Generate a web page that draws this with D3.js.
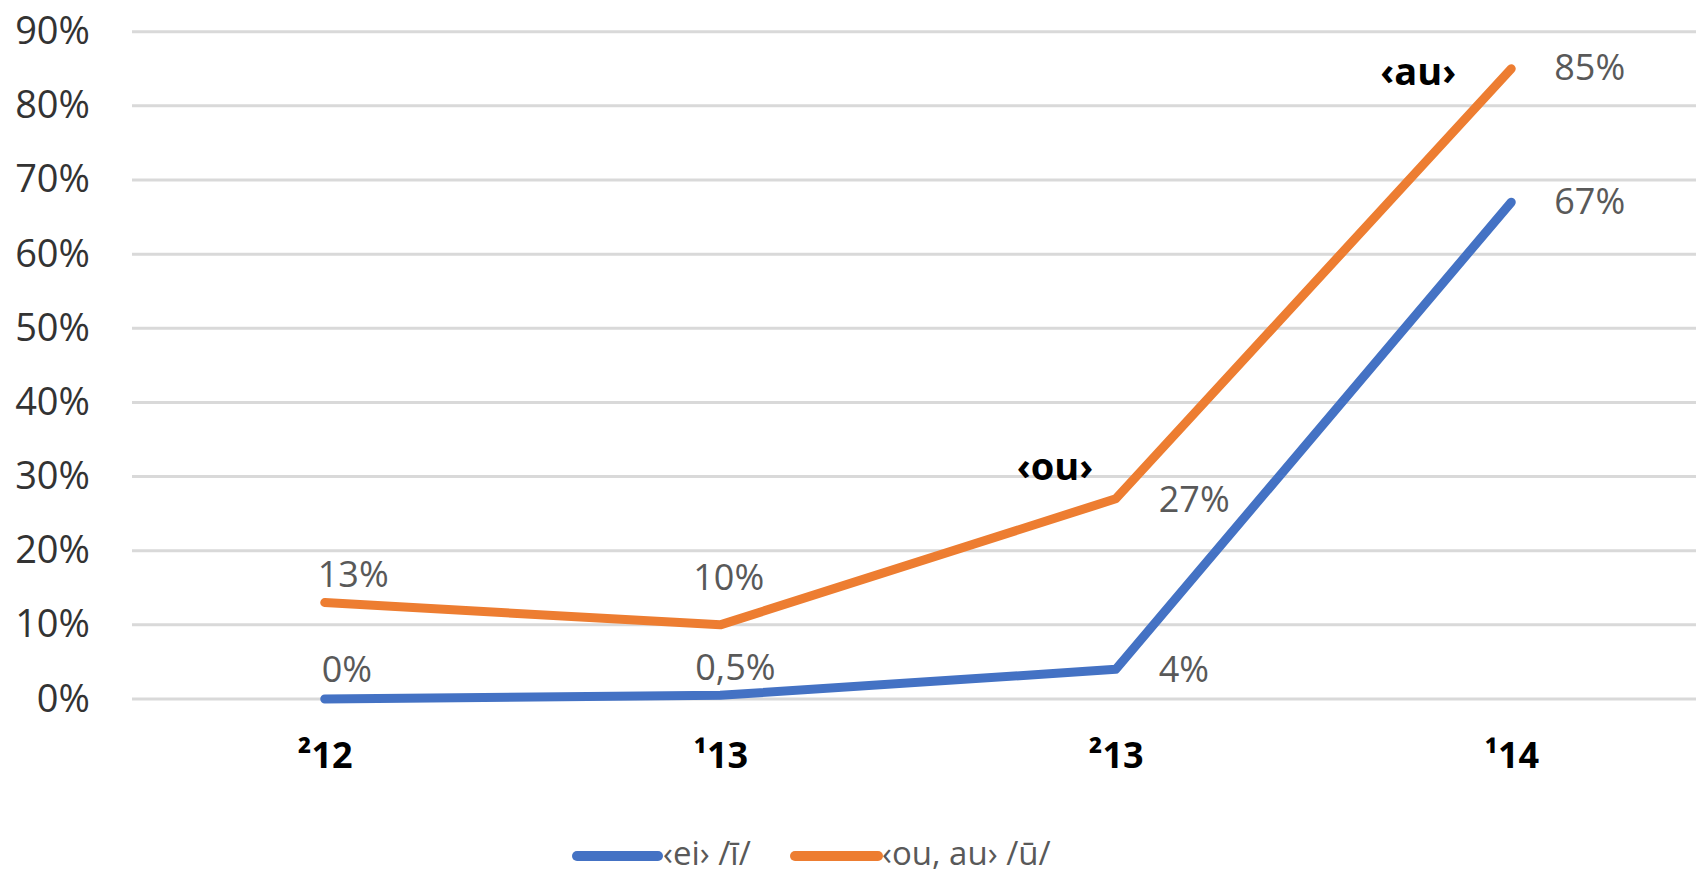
<!DOCTYPE html>
<html>
<head>
<meta charset="utf-8">
<script src="https://cdn.jsdelivr.net/npm/d3@7"></script>
<style>
  html, body { margin: 0; padding: 0; background: #fff; }
  svg { display: block; font-family: "Open Sans", "Noto Sans", sans-serif; }
</style>
</head>
<body>
<svg id="chart" width="1696" height="875"></svg>
<script>
// Periods (century halves) on the x axis
const periods = ["\u00B212", "\u00B913", "\u00B213", "\u00B914"];

// Share of diphthongised spellings, in percent
const eiValues = [0, 0.5, 4, 67];
const ouValues = [13, 10, 27, 85];

const seriesNames = ["\u2039ei\u203A /\u012B/", "\u2039ou, au\u203A /\u016B/"];
const seriesColors = ["#4472C4", "#ED7D31"];

// Y axis tick values, percent
const yTicks = [0, 10, 20, 30, 40, 50, 60, 70, 80, 90];

// Spelling notes attached to points of the ‹ou, au› series
const notes = [
  { text: "\u2039ou\u203A", index: 2 },
  { text: "\u2039au\u203A", index: 3 }
];

const W = 1696, H = 875;
const svg = d3.select("#chart");

const x = d3.scalePoint().domain(periods).range([127, 1709]).padding(0.5);
const y = d3.scaleLinear().domain([0, 90]).range([699, 31.7]);

// Gridlines
svg.append("g")
  .selectAll("line")
  .data(yTicks)
  .join("line")
  .attr("x1", 132).attr("x2", W)
  .attr("y1", d => y(d)).attr("y2", d => y(d))
  .attr("stroke", "#D9D9D9")
  .attr("stroke-width", 3);

// Y axis labels
const yAxis = d3.axisLeft(y).tickValues(yTicks).tickFormat(d => d + "%").tickSize(0).tickPadding(0);
const gy = svg.append("g").attr("transform", "translate(90,0)").call(yAxis);
gy.select(".domain").remove();
gy.selectAll("text")
  .attr("font-size", 38)
  .attr("font-family", "'Open Sans', sans-serif")
  .attr("fill", "#333")
  .attr("dy", 12);

// X axis labels
const xAxis = d3.axisBottom(x).tickSize(0).tickPadding(0);
const gx = svg.append("g").attr("transform", "translate(0,768)").call(xAxis);
gx.select(".domain").remove();
gx.selectAll("text")
  .attr("font-size", 36)
  .attr("font-weight", "bold")
  .attr("font-family", "'Open Sans', sans-serif")
  .attr("fill", "#000")
  .attr("dy", 0);

// Lines
const series = [eiValues, ouValues];
const line = d3.line().x((d, i) => x(periods[i])).y(d => y(d));
svg.append("g")
  .selectAll("path")
  .data(series)
  .join("path")
  .attr("d", d => line(d))
  .attr("fill", "none")
  .attr("stroke", (d, i) => seriesColors[i])
  .attr("stroke-width", 9)
  .attr("stroke-linecap", "round")
  .attr("stroke-linejoin", "round");

// Data labels: offsets from each point (dx to text start, dy to baseline)
const labelShift = [
  [[-3, -17], [-25, -15], [43, 13], [43, 12]],
  [[-7, -16], [-27, -35], [43, 13], [43, 11]]
];
const fmt = v => String(v).replace(".", ",") + "%";
series.forEach((vals, s) => {
  svg.append("g")
    .selectAll("text")
    .data(vals)
    .join("text")
    .attr("x", (d, i) => x(periods[i]) + labelShift[s][i][0])
    .attr("y", (d, i) => y(d) + labelShift[s][i][1])
    .attr("font-size", 36)
    .attr("fill", "#595959")
    .text(d => fmt(d));
});

// Spelling notes above the ‹ou, au› line
const noteShift = [[-99, -19], [-131, 16]];
svg.append("g")
  .selectAll("text")
  .data(notes)
  .join("text")
  .attr("x", (d, k) => x(periods[d.index]) + noteShift[k][0])
  .attr("y", (d, k) => y(ouValues[d.index]) + noteShift[k][1])
  .attr("font-size", 38)
  .attr("font-weight", "bold")
  .attr("fill", "#000")
  .text(d => d.text);

// Legend
const legendItems = [
  { x1: 577, x2: 658, tx: 663 },
  { x1: 795, x2: 878, tx: 882 }
];
const lg = svg.append("g");
legendItems.forEach((it, i) => {
  lg.append("line")
    .attr("x1", it.x1).attr("x2", it.x2)
    .attr("y1", 856).attr("y2", 856)
    .attr("stroke", seriesColors[i])
    .attr("stroke-width", 10)
    .attr("stroke-linecap", "round");
  lg.append("text")
    .attr("x", it.tx).attr("y", 865)
    .attr("font-size", 33)
    .attr("fill", "#595959")
    .text(seriesNames[i]);
});
</script>
</body>
</html>
